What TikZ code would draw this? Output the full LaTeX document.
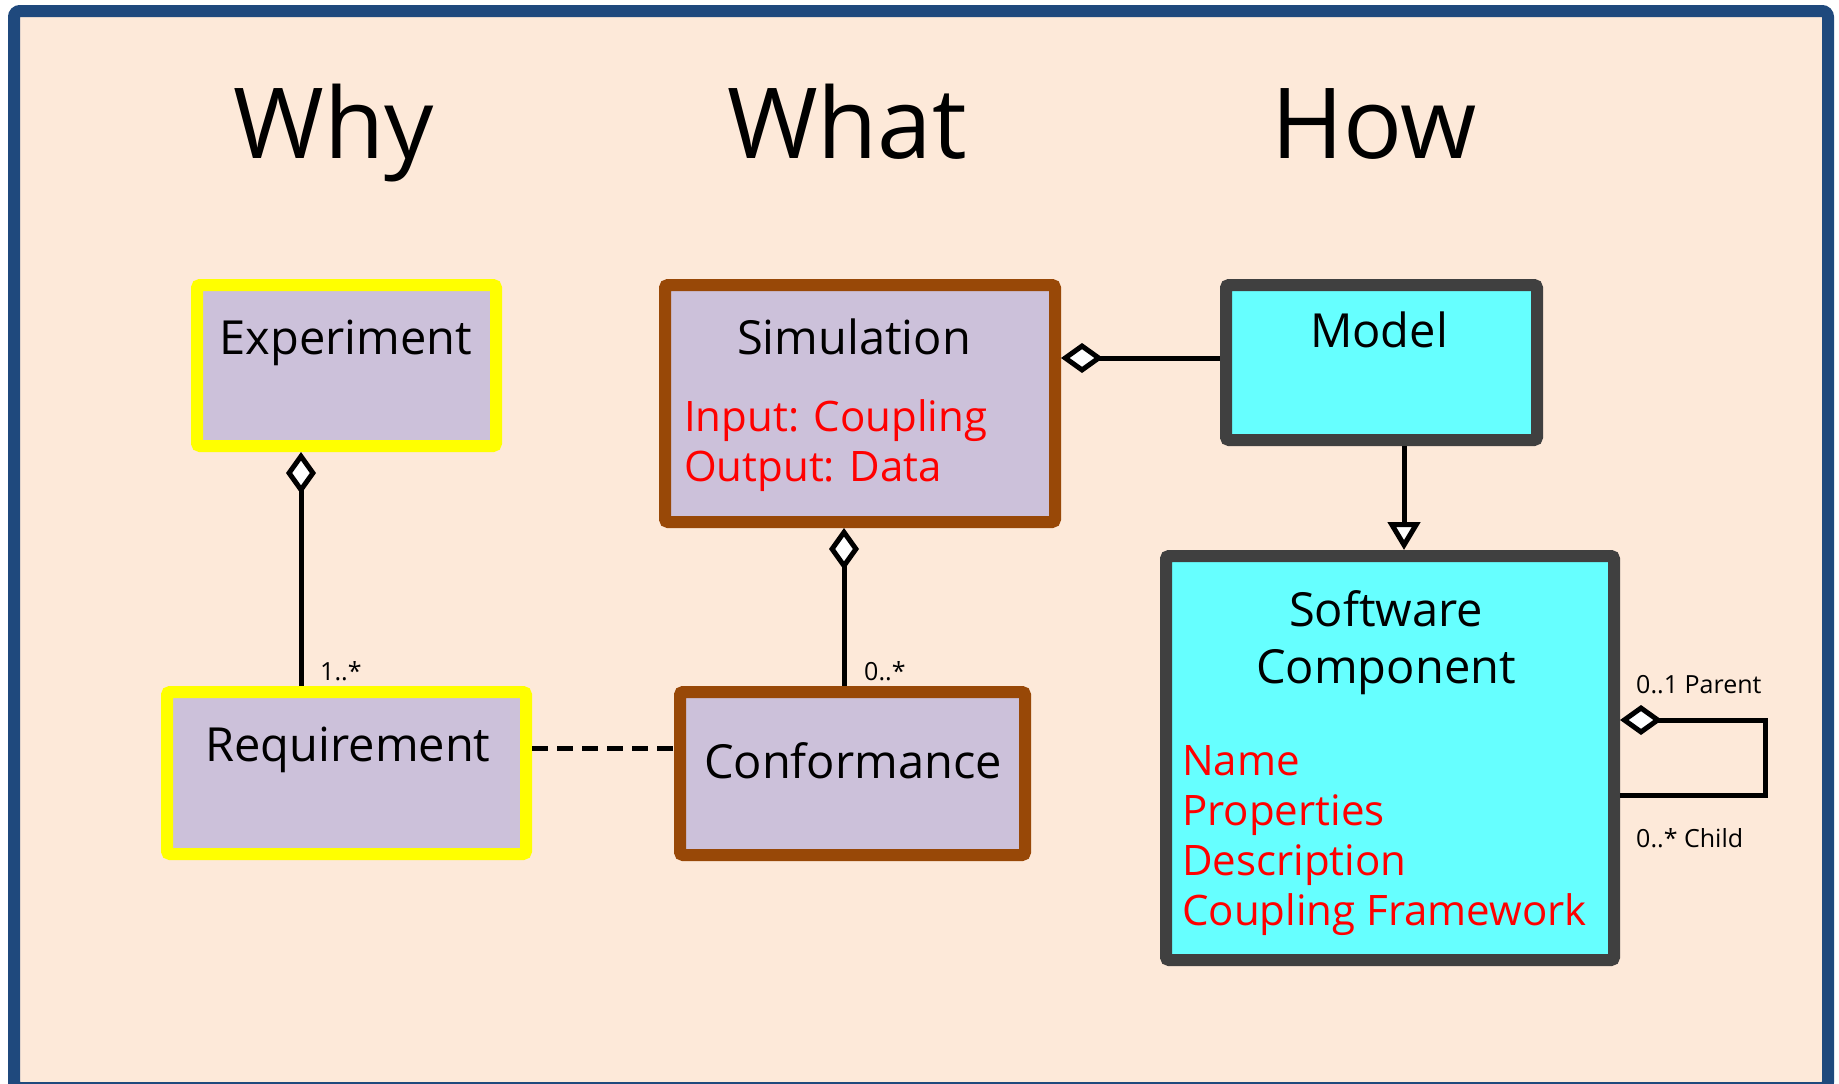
\documentclass[tikz,border=0pt]{standalone}
\usepackage{fontspec}
\setmainfont{Open Sans}
\usetikzlibrary{arrows.meta}
\definecolor{framecol}{HTML}{1F497D}
\definecolor{bgcol}{HTML}{FDE9D9}
\definecolor{lav}{HTML}{CCC1DA}
\definecolor{yel}{HTML}{FFFF00}
\definecolor{brn}{HTML}{984807}
\definecolor{dgray}{HTML}{404040}
\definecolor{cyn}{HTML}{66FFFF}
\definecolor{redtxt}{HTML}{FF0000}
\begin{document}
\begin{tikzpicture}[x=1pt,y=-1pt,
  box/.style={draw, line width=12, rounded corners=3, inner sep=0, rectangle},
  whybox/.style={box, draw=yel, fill=lav},
  whatbox/.style={box, draw=brn, fill=lav},
  howbox/.style={box, draw=dgray, fill=cyn},
  heading/.style={font=\fontsize{98}{104}\selectfont, anchor=base},
  boxtitle/.style={font=\fontsize{47}{57}\selectfont, anchor=base},
  attr/.style={font=\fontsize{42}{50}\selectfont, text=redtxt, anchor=base west, align=left, inner sep=0},
  mult/.style={font=\fontsize{25}{28}\selectfont, anchor=base west, inner sep=0},
  conn/.style={draw=black, line width=5},
  agg/.style={conn, {Diamond[fill=white, length=42, width=30, line width=5]}-},
  gen/.style={conn, -{Triangle[fill=white, length=28, width=32, line width=5]}}
]
\useasboundingbox (0,0) rectangle (1839,1084);
\fill[white] (0,0) rectangle (1839,1084);
\draw[framecol, line width=12, fill=bgcol, rounded corners=6] (14,11) rectangle (1828,1088);

% headings
\node[heading] (why) at (334,158) {Why};
\node[heading] (what) at (847,158) {What};
\node[heading] (how) at (1374,158) {How};

% boxes
\node[whybox, minimum width=299, minimum height=161] (exp) at (346.5,365.5) {};
\node[whybox, minimum width=359, minimum height=162] (req) at (346.5,773) {};
\node[whatbox, minimum width=390, minimum height=237] (sim) at (860,403.5) {};
\node[whatbox, minimum width=345, minimum height=163] (conf) at (852.5,773.5) {};
\node[howbox, minimum width=311, minimum height=155] (model) at (1381.5,362.5) {};
\node[howbox, minimum width=448, minimum height=404] (sc) at (1390,758) {};

% box texts (base anchor = baseline of the last line)
\node[boxtitle] (expT) at (346,354) {Experiment};
\node[boxtitle] (reqT) at (348,761) {Requirement};
\node[boxtitle] (simT) at (854,354) {Simulation};
\node[attr] (simA) at (684,481) {Input: Coupling\\Output: Data};
\node[boxtitle] (confT) at (853,778) {Conformance};
\node[boxtitle] (modelT) at (1379,347) {Model};
\node[boxtitle, align=center] (scT) at (1386,683) {Software\\Component};
\node[attr] (scA) at (1182,925) {Name\\Properties\\Description\\Coupling Framework};

% helper coordinates
\coordinate (c1) at (301,0);
\coordinate (c2) at (844,0);
\coordinate (c3) at (0,358);
\coordinate (c4) at (1404,0);
\coordinate (c5) at (0,748);
\coordinate (loopTR) at (1765,720);
\coordinate (loopBR) at (1765,795);

% connectors
\draw[agg] (exp.south -| c1) -- (req.north -| c1);
\draw[agg] (sim.south -| c2) -- (conf.north -| c2);
\draw[agg] (sim.east |- c3) -- (model.west |- c3);
\draw[gen] (model.south -| c4) -- (sc.north -| c4);
\draw[conn, dash pattern=on 16 off 9] (req.east |- c5) -- (conf.west |- c5);
\draw[agg, line join=miter] (sc.east |- loopTR) -- (loopTR) -- (loopBR) -- (sc.east |- loopBR);

% multiplicities
\node[mult] (m1) at (320,680) {1..*};
\node[mult] (m2) at (864,680) {0..*};
\node[mult] (m3) at (1636,693) {0..1 Parent};
\node[mult] (m4) at (1636,847) {0..* Child};
\end{tikzpicture}
\end{document}
